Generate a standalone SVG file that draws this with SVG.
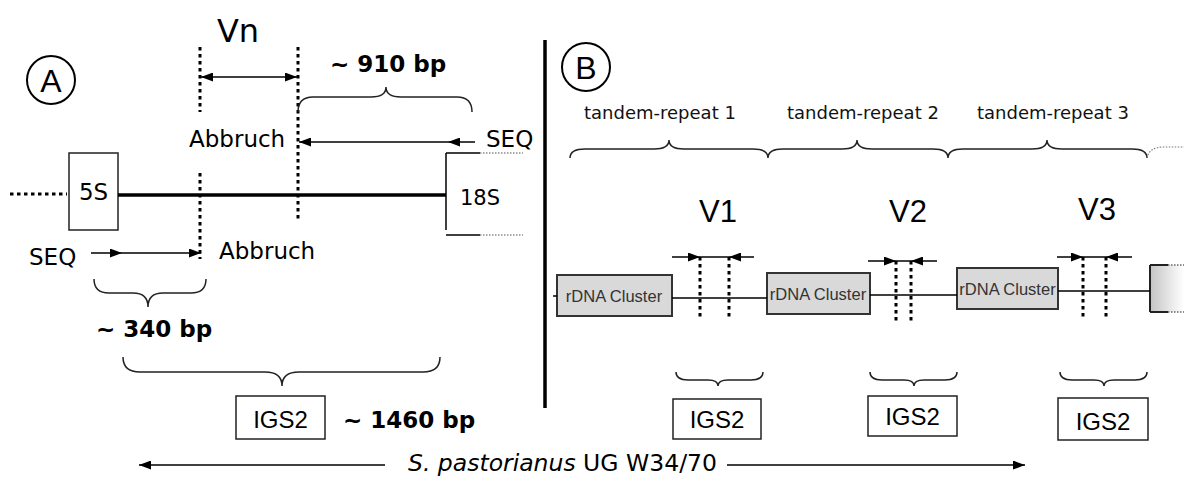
<svg xmlns="http://www.w3.org/2000/svg" width="1184" height="477" viewBox="0 0 1184 477">
<style>
.t{font-family:"DejaVu Sans",Verdana,sans-serif;fill:#000}
.b{font-family:"DejaVu Sans",Verdana,sans-serif;font-weight:bold;fill:#000}
.ar{font-family:"Liberation Sans",Arial,sans-serif;fill:#000}
.tr{font-family:"DejaVu Sans",Verdana,sans-serif;font-size:18px;fill:#111}
.dot{stroke:#000;stroke-width:3;stroke-dasharray:3.5 3.5;fill:none}
.ln{stroke:#000;stroke-width:1.5;fill:none}
.br{stroke:#222;stroke-width:1.5;fill:none}
.box{fill:#fff;stroke:#222;stroke-width:1.5}
.rb{fill:#d9d9d9;stroke:#333;stroke-width:2}
.rt{font-family:"Liberation Sans",Arial,sans-serif;font-size:16.5px;fill:#333}
</style>
<defs>
<marker id="ah" markerUnits="userSpaceOnUse" markerWidth="12" markerHeight="9" refX="12" refY="4.5" orient="auto-start-reverse">
<path d="M0,0 L12,4.5 L0,9 z" fill="#000"/>
</marker>
<linearGradient id="gr" x1="0" y1="0" x2="1" y2="0">
<stop offset="0" stop-color="#c4c4c4"/>
<stop offset="1" stop-color="#ffffff"/>
</linearGradient>
</defs>

<!-- Panel A -->
<g id="labelA">
<circle cx="51" cy="80" r="24" fill="none" stroke="#000" stroke-width="2"/>
<text class="ar" x="51" y="92" font-size="32" text-anchor="middle">A</text>
</g>
<g id="vn-label"><text class="t" x="238" y="42" font-size="32" text-anchor="middle">Vn</text></g>
<g id="bp910"><text class="b" x="330" y="72" font-size="23">~ 910 bp</text></g>
<g id="abbruch-top"><text class="t" x="189" y="147" font-size="23">Abbruch</text></g>
<g id="seq-top"><text class="t" x="486" y="147" font-size="23">SEQ</text></g>
<g id="node-5S">
<rect class="box" x="69" y="153" width="49" height="77"/>
<text class="t" x="93.5" y="200" font-size="23" text-anchor="middle">5S</text>
</g>
<g id="node-18S">
<path d="M446,153 V230" class="ln"/>
<path d="M446,153 H480 M446,235 H480" class="ln"/>
<path d="M480,153 H523 M480,235 H523" stroke="#555" stroke-width="1.2" stroke-dasharray="1.5 1.5"/>
<text class="t" x="460" y="205" font-size="21">18S</text>
</g>
<g id="seq-bottom"><text class="t" x="29" y="265" font-size="23">SEQ</text></g>
<g id="abbruch-bottom"><text class="t" x="219" y="259" font-size="23">Abbruch</text></g>
<g id="bp340"><text class="b" x="96" y="337" font-size="23">~ 340 bp</text></g>
<g id="igs2-A">
<rect class="box" x="236" y="396" width="89" height="43"/>
<text class="ar" x="280.5" y="428" font-size="24" text-anchor="middle">IGS2</text>
</g>
<g id="bp1460"><text class="b" x="343" y="428" font-size="23">~ 1460 bp</text></g>

<!-- Panel B -->
<g id="labelB">
<circle cx="586" cy="67" r="24" fill="none" stroke="#000" stroke-width="2"/>
<text class="ar" x="586" y="79" font-size="32" text-anchor="middle">B</text>
</g>
<g id="tandem-labels">
<text class="tr" x="584" y="119">tandem-repeat 1</text>
<text class="tr" x="787" y="119">tandem-repeat 2</text>
<text class="tr" x="977" y="119">tandem-repeat 3</text>
</g>
<g id="v-labels">
<text class="ar" x="718" y="222" font-size="31" text-anchor="middle">V1</text>
<text class="ar" x="908" y="222" font-size="31" text-anchor="middle">V2</text>
<text class="ar" x="1097" y="220" font-size="31" text-anchor="middle">V3</text>
</g>
<g id="rdna1">
<rect class="rb" x="557" y="275" width="115" height="41"/>
<text class="rt" x="614" y="302" text-anchor="middle">rDNA Cluster</text>
</g>
<g id="rdna2">
<rect class="rb" x="767" y="273" width="103" height="41"/>
<text class="rt" x="818" y="300" text-anchor="middle">rDNA Cluster</text>
</g>
<g id="rdna3">
<rect class="rb" x="957" y="268" width="101" height="41"/>
<text class="rt" x="1007.5" y="295" text-anchor="middle">rDNA Cluster</text>
</g>
<g id="rdna4">
<rect x="1150" y="265" width="34" height="47" fill="url(#gr)"/>
<path d="M1150,265 V312 M1150,265 H1168 M1150,312 H1168" stroke="#222" stroke-width="2" fill="none"/>
<path d="M1168,265 H1184 M1168,312 H1184" stroke="#666" stroke-width="1.5" stroke-dasharray="1.5 1.5"/>
</g>
<g id="igs2-B1">
<rect class="box" x="673" y="399" width="88" height="40"/>
<text class="ar" x="717" y="428" font-size="24" text-anchor="middle">IGS2</text>
</g>
<g id="igs2-B2">
<rect class="box" x="868" y="396" width="89" height="40"/>
<text class="ar" x="912.5" y="425" font-size="24" text-anchor="middle">IGS2</text>
</g>
<g id="igs2-B3">
<rect class="box" x="1058" y="398" width="90" height="42"/>
<text class="ar" x="1103" y="430" font-size="24" text-anchor="middle">IGS2</text>
</g>
<g id="species"><text class="t" x="408" y="471" font-size="23.5"><tspan font-style="italic">S. pastorianus</tspan> UG W34/70</text></g>

<!-- Connectors -->
<g id="connectors">
<path d="M545,40 V408" stroke="#000" stroke-width="3.5"/>
<path d="M10,194 H67" class="dot"/>
<path d="M118,195 H446" stroke="#000" stroke-width="3.5"/>
<path d="M200,47 V112" class="dot"/>
<path d="M200,173 V259" class="dot"/>
<path d="M298,47 V220" class="dot"/>
<path d="M201,77 H297" class="ln" marker-start="url(#ah)" marker-end="url(#ah)"/>
<path d="M475,142 H448" class="ln" marker-end="url(#ah)"/>
<path d="M448,142 H299" class="ln" marker-end="url(#ah)"/>
<path d="M91,253 H122" class="ln" marker-end="url(#ah)"/>
<path d="M122,253 H201" class="ln" marker-end="url(#ah)"/>
<path d="M298,112 Q298,97 313,97 L371,97 Q386,97 386,87 Q386,97 401,97 L457,97 Q472,97 472,112" class="br"/>
<path d="M94,279 Q94,293 109,293 L133,293 Q148,293 148,307 Q148,293 163,293 L191,293 Q206,293 206,279" class="br"/>
<path d="M123,357 Q123,372 140,372 L265,372 Q282,372 282,386 Q282,372 299,372 L423,372 Q440,372 440,357" class="br"/>
<path d="M385,465 H139" class="ln" marker-end="url(#ah)"/>
<path d="M727,465 H1025" class="ln" marker-end="url(#ah)"/>
<path d="M570,158 Q570,149 585,149 L654,149 Q669,149 669,140 Q669,149 684,149 L753,149 Q768,149 768,158 Q768,149 783,149 L842,149 Q857,149 857,140 Q857,149 872,149 L933,149 Q948,149 948,158 Q948,149 963,149 L1032,149 Q1047,149 1047,140 Q1047,149 1062,149 L1132,149 Q1147,149 1147,158" class="br"/>
<path d="M1147,158 Q1149,147 1164,147 L1184,147" stroke="#777" stroke-width="1.2" stroke-dasharray="1.5 1.5" fill="none"/>
<path d="M553,296 H557" class="ln"/>
<path d="M672,298 H767" class="ln"/>
<path d="M870,295 H957" class="ln"/>
<path d="M1058,291 H1150" class="ln"/>
<path d="M700,257 V320 M729,257 V320" class="dot"/>
<path d="M672,257 H700" class="ln" marker-end="url(#ah)"/>
<path d="M700,257 H729" class="ln"/>
<path d="M754,257 H729" class="ln" marker-end="url(#ah)"/>
<path d="M896,261 V323 M911,261 V323" class="dot"/>
<path d="M868,261 H896" class="ln" marker-end="url(#ah)"/>
<path d="M896,261 H911" class="ln"/>
<path d="M937,261 H911" class="ln" marker-end="url(#ah)"/>
<path d="M1083,257 V319 M1106,257 V319" class="dot"/>
<path d="M1057,257 H1083" class="ln" marker-end="url(#ah)"/>
<path d="M1083,257 H1106" class="ln"/>
<path d="M1132,257 H1106" class="ln" marker-end="url(#ah)"/>
<path d="M676,372 Q676,380 688,380 L708,380 Q718,380 718,386 Q718,380 728,380 L751,380 Q763,380 763,372" class="br"/>
<path d="M870,372 Q870,380 882,380 L904,380 Q914,380 914,386 Q914,380 924,380 L945,380 Q957,380 957,372" class="br"/>
<path d="M1060,372 Q1060,380 1072,380 L1094,380 Q1104,380 1104,386 Q1104,380 1114,380 L1135,380 Q1147,380 1147,372" class="br"/>
</g>
</svg>
